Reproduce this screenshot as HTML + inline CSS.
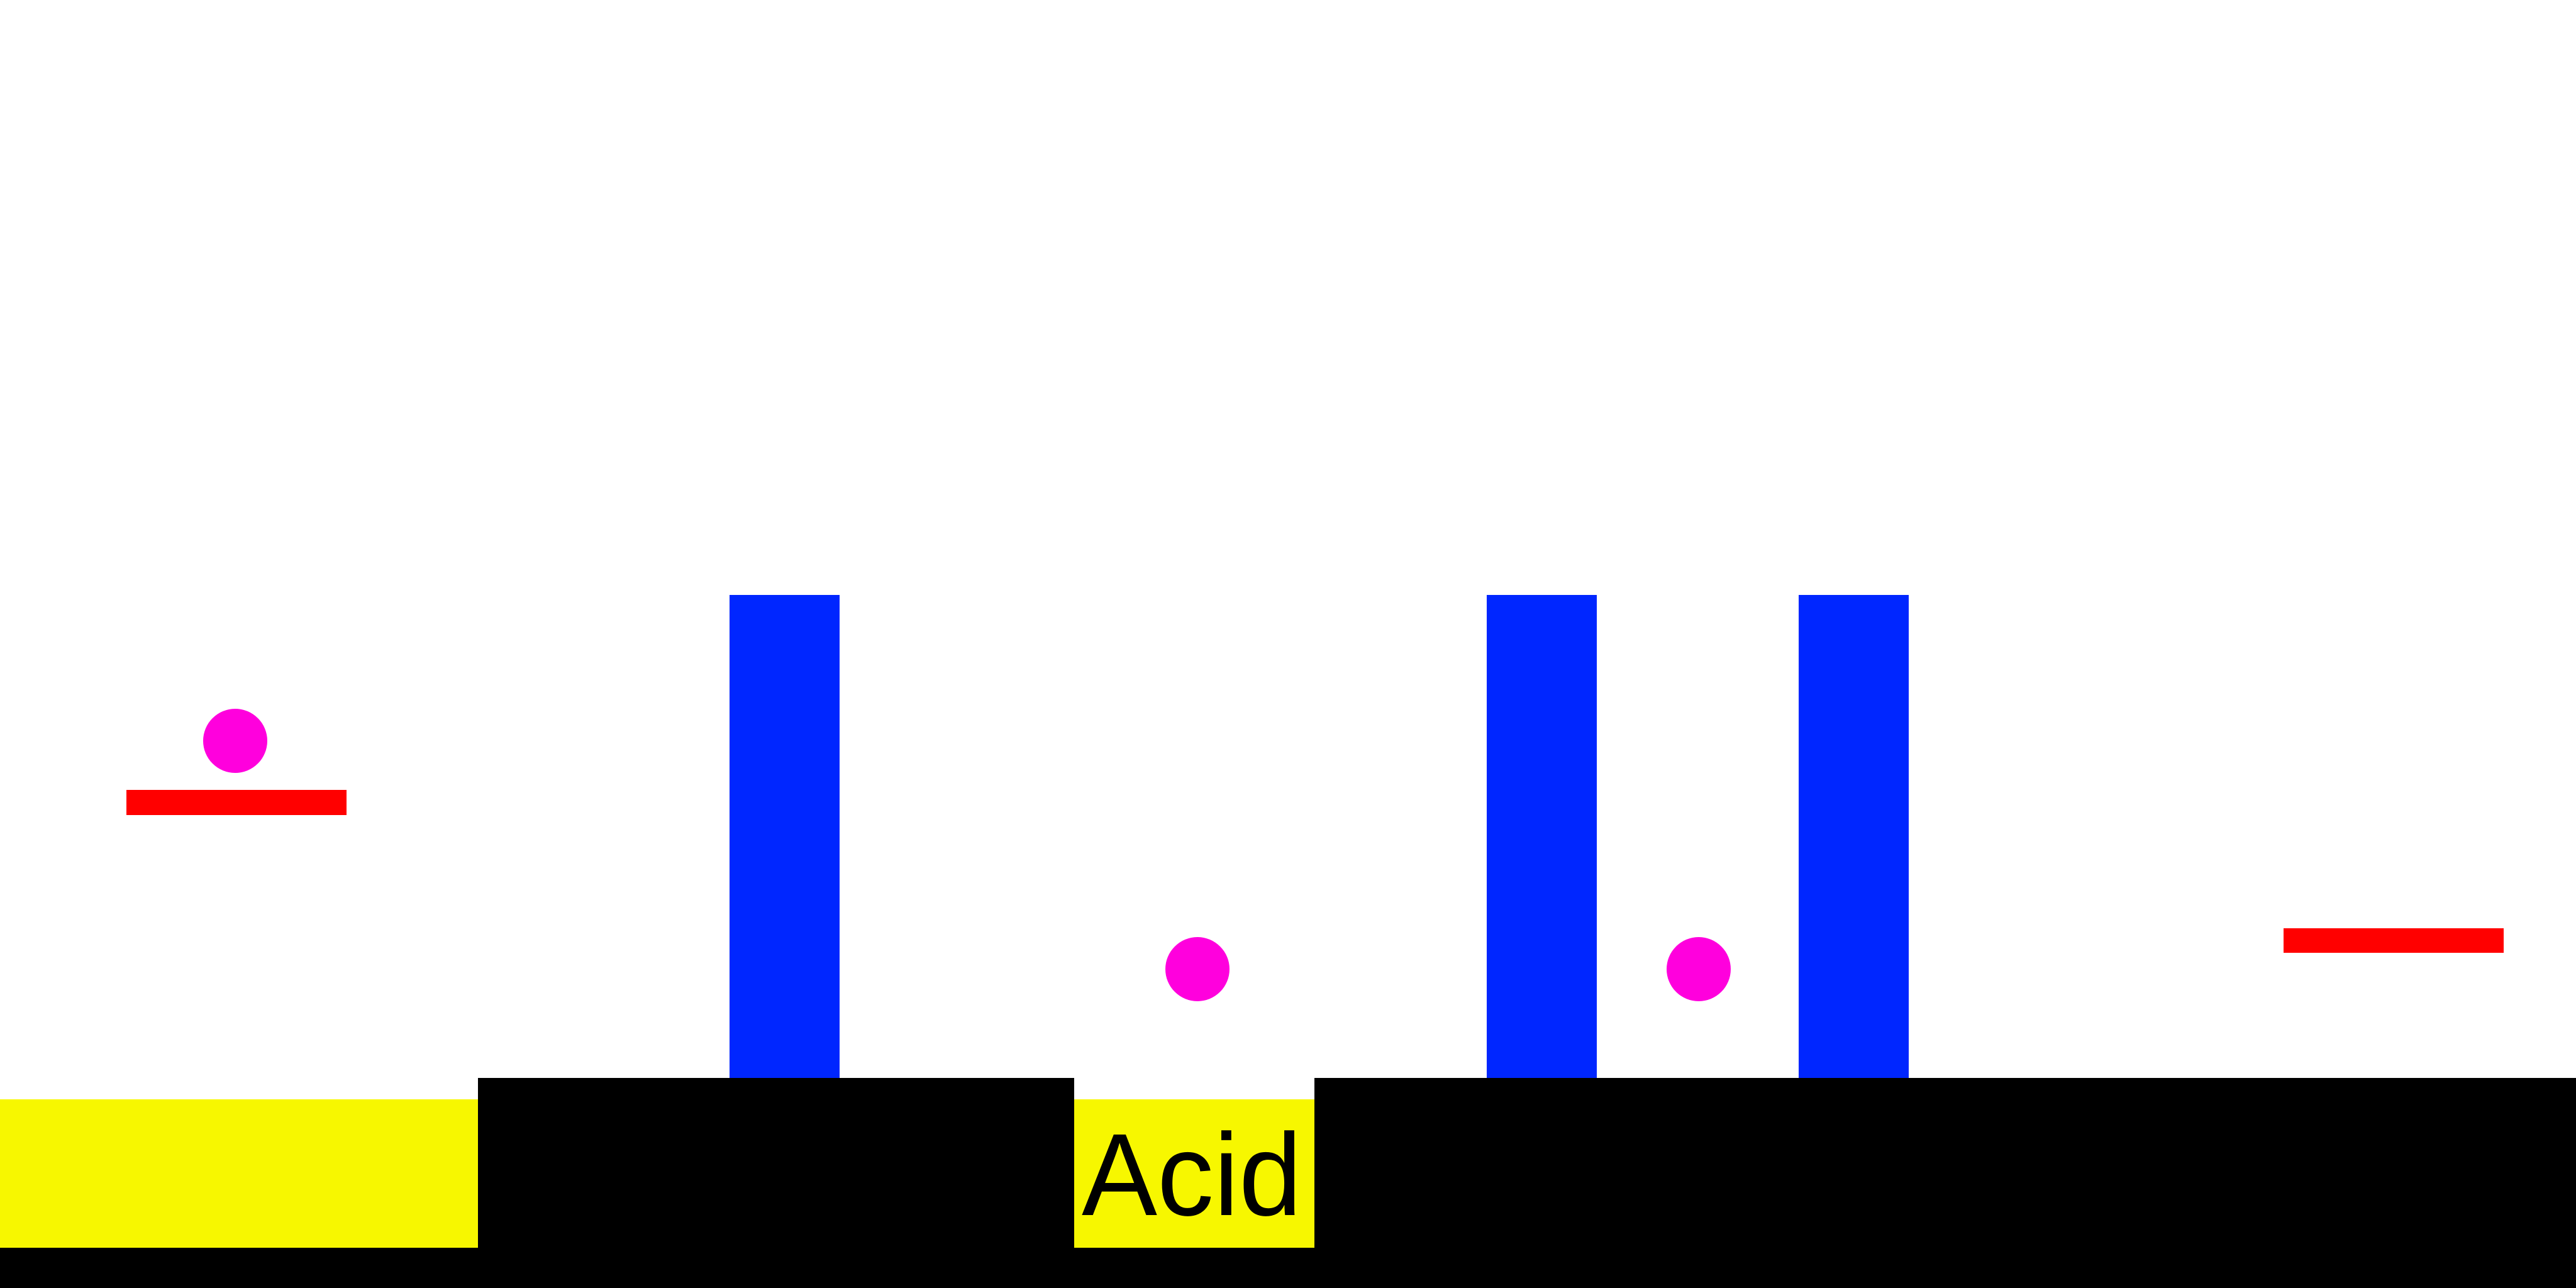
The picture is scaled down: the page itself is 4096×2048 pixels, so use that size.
<!DOCTYPE html>
<html><head><meta charset="utf-8"><style>html,body{margin:0;padding:0;background:#fff;}svg{display:block}</style></head>
<body>
<svg width="4096" height="2048" viewBox="0 0 4096 2048" xmlns="http://www.w3.org/2000/svg">
<rect x="0" y="0" width="4096" height="2048" fill="#fff"/>
<rect x="0" y="1748" width="760" height="236" fill="#f7f700"/>
<rect x="0" y="1984" width="4096" height="64" fill="#000"/>
<rect x="760" y="1714" width="948" height="334" fill="#000"/>
<rect x="1708" y="1748" width="382" height="236" fill="#f7f700"/>
<text x="1720" y="1932" font-family="'Liberation Sans', sans-serif" font-size="186" textLength="350" lengthAdjust="spacingAndGlyphs" fill="#000">Acid</text>
<rect x="2090" y="1714" width="2006" height="334" fill="#000"/>
<rect x="1160" y="946" width="175" height="768" fill="#0026ff"/>
<rect x="2364" y="946" width="175" height="768" fill="#0026ff"/>
<rect x="2860" y="946" width="175" height="768" fill="#0026ff"/>
<rect x="201" y="1256" width="350" height="40" fill="#ff0000"/>
<rect x="3631" y="1476" width="350" height="39" fill="#ff0000"/>
<circle cx="374" cy="1178" r="51" fill="#ff00dd"/>
<circle cx="1904" cy="1541" r="51" fill="#ff00dd"/>
<circle cx="2701" cy="1541" r="51" fill="#ff00dd"/>
</svg>
</body></html>
